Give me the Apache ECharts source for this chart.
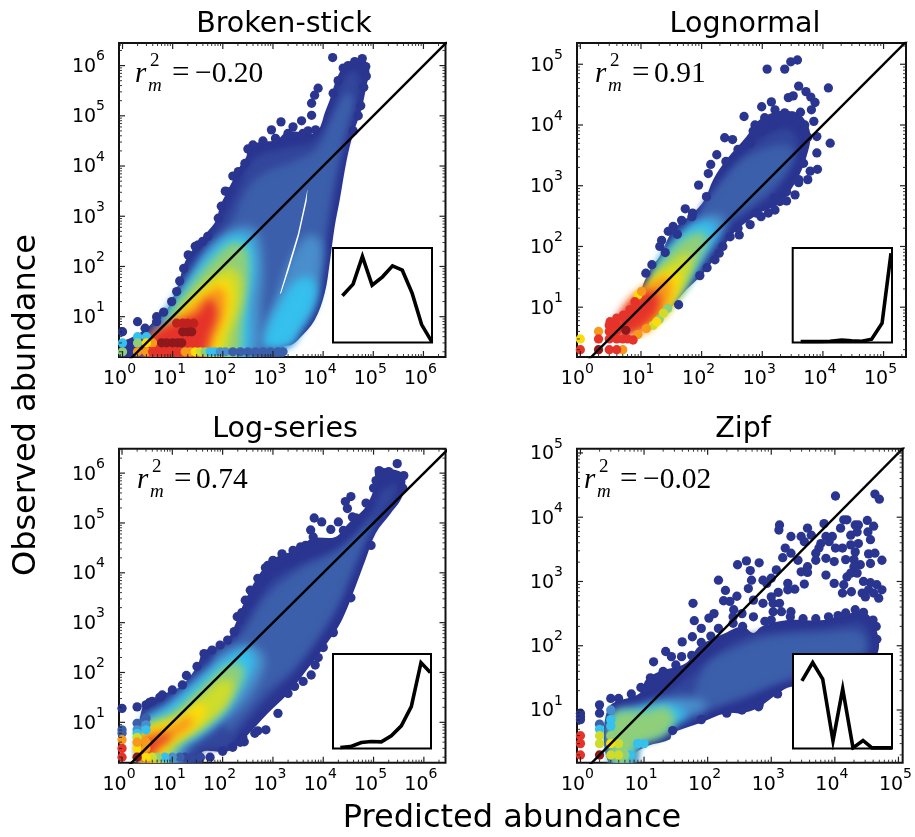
<!DOCTYPE html>
<html><head><meta charset="utf-8">
<style>html,body{margin:0;padding:0;background:#fff}#c{width:915px;height:837px}</style>
<script src="https://cdn.jsdelivr.net/npm/echarts@6/dist/echarts.min.js"></script>
</head><body><div id="c"></div>
<script>
const panelTitles = ['Broken-stick', 'Lognormal', 'Log-series', 'Zipf'];
const rmValues = ['\u22120.20', '0.91', '0.74', '\u22120.02'];
const xExtents = [[-0.07, 6.44], [-0.055, 5.37], [-0.06, 6.43], [-0.054, 5.066]];
const yExtents = [[0.197, 6.45], [0.18, 5.35], [0.19, 6.49], [0.18, 5.066]];
const xLabel = 'Predicted abundance';
const yLabel = 'Observed abundance';
// density level -> colour of the colour scale; level 11 is the bare paper showing through
const densityColors = ['#2a3590', '#33479c', '#3c5fab', '#4a8ecb', '#35c0ee', '#8fcf7a', '#cfdc2c', '#fcdc0c', '#f79a1c', '#e6332a', '#8e181c', '#ffffff', '#bf211f'];

const brokenStickBands = [
 [0, [[-.05,.19],[-.02,.47],[.21,.6],[.48,.77],[.74,1.03],[.88,1.13],[1.04,1.46],[1.14,1.73],[1.21,2],[1.34,2.26],[1.54,2.46],[1.67,2.66],[1.87,2.92],[1.94,3.19],[2.07,3.46],[2.24,3.79],[2.34,3.99],[2.47,4.19],[2.5,4.38],[2.74,4.48],[3.07,4.52],[3.27,4.68],[3.53,4.68],[3.73,4.65],[3.87,4.65],[3.97,4.85],[4.03,5.05],[4.13,5.31],[4.27,5.74],[4.43,6.01],[4.6,6.11],[4.8,6.14],[4.92,5.91],[4.86,5.58],[4.76,5.11],[4.6,4.65],[4.47,4.12],[4.33,3.32],[4.23,2.79],[4.13,2.06],[4.03,1.46],[3.83,.93],[3.53,.57],[3.37,.44],[3.2,.4],[3.2,.19]]],
 [1, [[.95,.9],[1.33,1.75],[1.85,2.68],[2.25,3.42],[2.62,4.14],[3.2,4.34],[3.8,4.48],[4.16,4.98],[4.42,5.75],[4.65,5.9],[4.72,5.58],[4.6,5.05],[4.36,4.19],[4.2,3.39],[4.08,2.73],[3.97,2],[3.8,1.33],[3.55,.87],[3.25,.42],[.95,.15]]],
 [2, [[1.58,2],[2.1,2.75],[2.5,3.55],[2.87,3.88],[3.4,4.08],[3.87,4.34],[4.22,5.05],[4.47,5.45],[4.6,5.33],[4.47,4.78],[4.28,3.99],[4.15,3.32],[4.03,2.53],[3.9,1.73],[3.66,1],[3.2,.42],[3.1,.15],[2.21,.15]]],
 [3, [[2.8,.73],[3.07,1.4],[3.34,2.13],[3.7,2.62],[3.95,2.5],[3.95,1.8],[3.78,1.13],[3.48,.67],[3.27,.44],[2.8,.44]]],
 [4, [[2.84,.67],[3.1,1.2],[3.4,1.66],[3.7,1.8],[3.86,1.6],[3.8,1.2],[3.55,.77],[3.34,.44],[2.8,.44]]],
 [11, [[3.14,1.46],[3.3,2],[3.5,2.66],[3.64,3.3],[3.69,3.55],[3.67,3.3],[3.52,2.62],[3.32,1.95],[3.16,1.46]]],
 [3, [[.7,.8],[1.2,1.6],[1.65,2.3],[2.21,2.75],[2.64,2.76],[2.8,2.13],[2.77,1.33],[2.6,.15],[.55,.15]]],
 [4, [[.78,.85],[1.27,1.62],[1.7,2.22],[2.14,2.6],[2.5,2.59],[2.64,2.13],[2.55,1.33],[2.37,.15],[.6,.15]]],
 [5, [[.88,.9],[1.34,1.6],[1.81,2.16],[2.21,2.47],[2.46,2.36],[2.52,1.86],[2.4,1],[2.24,.15],[.88,.15]]],
 [6, [[1.14,1],[1.54,1.56],[1.87,1.85],[2.14,1.98],[2.34,1.83],[2.36,1.33],[2.2,.8],[1.97,.15],[1.08,.15]]],
 [7, [[1.11,.97],[1.51,1.43],[1.81,1.66],[2.02,1.76],[2.17,1.6],[2.17,1.13],[1.97,.6],[1.81,.15],[.88,.15]]],
 [8, [[1.04,.92],[1.48,1.3],[1.81,1.55],[1.96,1.58],[2.06,1.4],[2.02,1],[1.83,.54],[1.63,.15],[.54,.15],[.5,.53]]],
 [9, [[.81,.8],[1.48,1.07],[1.7,1.34],[1.82,1.3],[1.88,1.02],[1.76,.67],[1.55,.15],[.45,.15],[.42,.47]]]
];
const brokenStickDots = [
 [0, [[4.19,6.16],[3.9,5.55],[3.83,5.41],[3.77,5.25],[3.77,5.01],[3.57,4.9],[3.4,4.78],[3.16,4.88],[2.97,4.72],[4.78,6.14],[4.5,6],[4.63,6.08],[4.85,5.98],[4.86,5.79],[4.81,5.57],[2.6,4.42],[2.5,4.34],[2.44,4.05],[2.31,3.89],[2.09,3.49],[1.97,3.2],[1.91,2.96],[1.51,2.43],[1.31,2.23],[1.22,1.96],[1.14,1.71],[.82,1.09],[.68,1],[.68,.9],[.3,.9],[.45,.77],[0,.7],[2.8,4.5],[3.05,4.55],[3.3,4.65],[3.6,4.65],[3.7,4.7],[3.85,4.72],[2.2,3.8],[2.05,3.5],[4.75,5.2],[4.7,5],[4.6,4.7],[1.7,2.6],[1.6,2.5],[1.45,2.4],[1.08,1.5],[.98,1.3],[4.3,5.7],[4.2,5.45],[4.4,5.95]]],
 [4, [[0,.477],[.3,.6],[.477,.6]]],
 [5, [[0,.3],[.3,.477]]],
 [8, [[.3,.3],[.477,.3],[.6,.477]]],
 [7, [[.477,.477]]],
 [9, [[.6,.3],[.75,.3],[.9,.3],[1.05,.3],[1.15,.3]]],
 [8, [[1.25,.3],[1.35,.3]]],
 [7, [[1.45,.3]]],
 [6, [[1.55,.3]]],
 [5, [[1.65,.3]]],
 [4, [[1.75,.3],[1.85,.3]]],
 [3, [[1.95,.3],[2.05,.3]]],
 [2, [[2.2,.3],[2.35,.3],[2.5,.3],[2.65,.3],[2.8,.3],[2.95,.3],[3.1,.3],[3.2,.3]]],
 [10, [[.78,.48],[.88,.48],[1,.48],[1.1,.48],[1.18,.48],[1.2,.7],[1.3,.7],[1.38,.7]]],
 [12, [[1.08,.87],[1.2,.87],[1.3,.87],[1.42,.87]]]
];
const brokenStickInset = [[9.5,49.5],[20.3,61.8],[29.7,91.2],[39.5,60.7],[50,69.5],[60.1,81.1],[70,76.5],[80,52],[89.5,18.9],[99.7,1]];

const lognormalBands = [
 [0, [[1,1.15],[1.15,1.62],[1.31,1.84],[1.53,2.27],[1.86,2.55],[2.05,2.77],[2.19,3.1],[2.41,3.43],[2.74,3.81],[2.96,4.09],[3.29,4.23],[3.62,4.17],[3.79,3.87],[3.73,3.48],[3.57,3.1],[3.29,2.71],[2.96,2.55],[2.58,2.27],[2.36,2],[2.03,1.56],[1.75,1.29],[1.5,1],[1.3,.8]]],
 [1, [[1.2,1.35],[1.36,1.7],[1.88,2.4],[2.22,2.9],[2.6,3.38],[2.98,3.76],[3.35,3.93],[3.55,3.83],[3.58,3.59],[3.42,3.23],[3.16,2.86],[2.8,2.6],[2.4,2.27],[2.06,1.82],[1.73,1.45],[1.48,1.1],[1.3,1]]],
 [2, [[1.97,2.52],[2.25,2.96],[2.69,3.44],[3.24,3.66],[3.5,3.61],[3.47,3.37],[3.22,3.02],[2.85,2.7],[2.52,2.48],[2.25,2.26]]],
 [3, [[1.3,1.67],[1.55,2.08],[1.97,2.46],[2.34,2.5],[2.36,2.27],[2.08,1.87],[1.86,1.54],[1.6,1.22],[1.4,1.14]]],
 [4, [[1.23,1.59],[1.5,2.01],[1.86,2.36],[2.17,2.4],[2.25,2.22],[2.03,1.86],[1.81,1.48],[1.55,1.15],[1.33,1.05]]],
 [5, [[1.18,1.45],[1.42,1.84],[1.75,2.16],[2.05,2.22],[2.07,2],[1.86,1.62],[1.7,1.29],[1.48,1.01],[1.26,.85]]],
 [6, [[1.15,1.4],[1.48,1.73],[1.75,1.89],[1.86,1.81],[1.75,1.45],[1.59,1.18],[1.42,.93],[1.2,.76]]],
 [7, [[1.04,1.23],[1.31,1.51],[1.59,1.59],[1.64,1.4],[1.53,1.12],[1.37,.87],[1.15,.68],[1.01,.57]]],
 [8, [[.82,1.12],[1.09,1.34],[1.42,1.51],[1.51,1.29],[1.42,1.01],[1.26,.79],[1.09,.63],[.8,.58],[.68,.65]]],
 [9, [[.6,.82],[.87,1.14],[1.15,1.27],[1.29,1.2],[1.29,.98],[1.13,.76],[.93,.6],[.7,.52],[.58,.58]]]
];
const lognormalDots = [
 [0, [[3.08,4.92],[3.37,4.92],[3.47,5.04],[3.58,5.07],[3.6,4.64],[3.72,4.55],[3.8,4.46],[3.87,4.37],[3.81,4.25],[4.09,4.61],[3.43,4.45],[3.51,4.48],[3.15,4.38],[2.99,4.3],[3.21,4.25],[2.7,4.14],[3.37,4.2],[3.63,4.21],[3.85,4.06],[3.9,3.81],[4.12,3.7],[3.9,3.54],[3.91,3.27],[3.79,3.24],[3.68,3.37],[3.54,2.85],[2.38,3.79],[2.51,3.76],[2.25,3.51],[2.15,3.35],[2.11,3.2],[1.95,3.01],[2.08,2.82],[1.73,2.62],[1.84,2.49],[1.67,2.43],[1.53,2.33],[1.45,2.25],[1.34,2.1],[1.31,2],[1.18,1.7],[1.08,1.56],[1.62,1.04],[1.97,1.52],[2.09,1.65],[2.29,1.89],[2.22,1.78],[2.47,2.16],[2.62,2.19],[2.8,2.36],[2.98,2.49],[3.1,2.55],[3.21,2.6],[3.29,2.74],[2.85,3.9],[2.88,4],[3.04,4.12],[3.75,3.1],[3.6,3.05],[3.4,2.75],[3.3,4.1],[3.5,4.15],[3.7,4],[3.75,3.8],[3.2,4],[3,3.9],[2.8,3.7],[2.6,3.6],[2.4,3.4],[3.6,3.1],[3.4,2.9],[3.2,2.8],[2.9,2.55],[2.6,2.3],[2.35,2],[1.85,2.55],[1.6,2.2],[1.4,1.9]]],
 [5, [[1.3,.8],[1.44,.98]]],
 [6, [[1.37,.9],[1.2,.7]]],
 [7, [[0,.477],[1.26,.76],[.95,1.2]]],
 [8, [[.7,.3],[.3,.6],[1.01,1.26],[1.09,.65],[.95,.55]]],
 [9, [[0,.3],[.3,.477],[.477,.3],[.6,.3],[.477,.477],[.6,.477],[.7,.477],[.477,.6],[.6,.6],[.477,.7],[.6,.7],[.78,.477],[.49,.76],[.6,.82],[.71,.87],[.82,.96],[.9,1.09],[.87,.46],[.75,.78]]],
 [10, [[.3,.3],[.75,.62]]]
];
const lognormalInset = [[8,1],[17.4,1],[27.5,1],[37.6,1.4],[49.3,2.5],[59.4,1.8],[69.5,1.4],[79.5,3.5],[90,20.5],[99,94.4]];

const logSeriesBands = [
 [0, [[.39,1.25],[.69,1.51],[1.16,1.72],[1.49,2.12],[1.62,2.42],[2.03,2.58],[2.23,2.92],[2.36,3.25],[2.53,3.62],[2.7,3.92],[2.9,4.19],[3.16,4.36],[3.49,4.46],[3.77,4.69],[4.24,4.72],[4.5,4.99],[4.84,5.32],[5.04,5.79],[5.04,6.06],[5.31,6.09],[5.61,5.96],[5.57,5.53],[5.34,5.19],[5.04,4.79],[4.84,4.26],[4.64,3.72],[4.37,3.05],[4.07,2.58],[3.77,2.18],[3.3,1.58],[2.9,1.18],[2.53,.78],[2.23,.48],[2.03,.41],[1.6,.41],[1.6,.19],[.39,.19]]],
 [1, [[.55,1],[1.12,1.45],[1.6,1.9],[2.15,2.42],[2.42,2.95],[2.68,3.4],[3,3.85],[3.6,4.2],[4.1,4.4],[4.6,4.7],[4.95,5.1],[5.15,5.6],[5.45,5.78],[5.38,5.5],[5.05,5.02],[4.78,4.5],[4.5,3.85],[4.18,3.12],[3.84,2.58],[3.4,1.98],[2.85,1.42],[2.4,.9],[2.1,.51],[1.55,.42],[1.5,.15],[.42,.15]]],
 [2, [[1.83,2.34],[2.36,2.74],[2.9,3.55],[3.57,4.08],[4.24,4.4],[4.75,4.85],[5.08,5.27],[5,5.1],[4.6,4.12],[4.33,3.45],[3.93,2.78],[3.4,2.08],[2.87,1.62],[2.47,1.15],[2.1,.82]]],
 [3, [[.42,1.05],[.89,1.38],[1.49,1.92],[2.1,2.42],[2.56,2.55],[2.83,2.32],[2.76,1.92],[2.36,1.31],[1.69,.78],[1.3,.48],[1.2,.15],[.42,.15]]],
 [4, [[.42,.95],[.89,1.28],[1.56,1.85],[2.16,2.35],[2.53,2.45],[2.63,2.18],[2.43,1.78],[2.03,1.18],[1.49,.71],[1.1,.48],[1,.15],[.42,.15]]],
 [5, [[.42,.85],[1.02,1.21],[1.63,1.74],[2.1,2.15],[2.38,2.15],[2.4,1.85],[2.05,1.28],[1.63,.88],[1.16,.56],[.85,.15],[.42,.15]]],
 [6, [[.42,.81],[1.16,1.15],[1.56,1.5],[1.96,1.84],[2.2,1.8],[2.08,1.36],[1.65,.96],[1.09,.58],[.75,.15],[.42,.15]]],
 [7, [[.42,.78],[1.09,1.05],[1.49,1.38],[1.66,1.33],[1.6,1.05],[1.25,.76],[.89,.55],[.65,.15],[.42,.15]]],
 [8, [[.42,.75],[.89,.88],[1.29,1.11],[1.43,1.05],[1.29,.85],[.89,.58],[.55,.15],[.42,.15]]],
 [9, [[.42,.61],[.76,.71],[.96,.78],[.92,.65],[.69,.51],[.45,.15],[.35,.45]]]
];
const logSeriesDots = [
 [0, [[5.47,6.19],[5.11,6.05],[5.3,6.03],[4.55,5.53],[4.44,5.43],[4.48,5.29],[3.82,5.1],[3.97,5.02],[3.75,4.86],[3.8,4.72],[4.15,4.87],[4.3,5.02],[4.58,5.12],[3.18,4.38],[2.9,4.15],[2.7,3.89],[2.29,3.12],[2.23,2.82],[1.63,2.38],[1.79,2.45],[1.28,1.94],[1.49,2.12],[3.84,2.15],[3.76,1.95],[3.6,1.82],[3.43,1.72],[3.3,1.58],[3.1,1.18],[2.86,.85],[2.7,.83],[2.64,.78],[2.43,.61],[1.75,.3],[0,1.28],[.3,1.31],[.477,1.35],[.6,1.42],[.75,1.5],[3,4.25],[2.85,4.1],[3.4,4.45],[3.55,4.52],[3.65,4.55],[2.55,3.65],[2.45,3.45],[2.38,3.2],[4.4,4.85],[4.65,5.1],[4.85,5.4],[5,5.7],[5.05,5.85],[5.6,5.95],[5.58,5.7],[4.95,4.55],[4.55,3.5],[4.2,2.8],[4,2.5],[3.9,2.3],[1.95,2.55],[2.1,2.65],[1.2,1.75],[1,1.65],[.8,1.55],[.55,1.4],[2.4,.7],[2,.42],[2.2,.5],[2.35,.6]]],
 [1, [[1.56,.3],[1.38,.3],[1.25,.3]]],
 [2, [[0,.85],[0,.78],[.3,.98],[.477,1.08],[1.15,.3]]],
 [3, [[.3,.85],[.477,.95],[1,.3]]],
 [4, [[.3,.78],[.477,.85],[.85,.3]]],
 [5, [[.7,.3]]],
 [6, [[.6,.3],[.3,.7]]],
 [7, [[.477,.3],[.3,.477]]],
 [8, [[0,.65],[.3,.6],[.477,.6],[.477,.477]]],
 [9, [[0,.477],[0,.3]]],
 [10, [[.3,.3]]]
];
const logSeriesInset = [[7.5,1],[17.7,2],[28.9,6.3],[39.1,7.4],[49.3,7],[59.5,13.4],[69.7,24],[79.9,44.4],[89.8,90.9],[99.3,80.5]];

const zipfBands = [
 [0, [[.44,1.03],[.93,1.26],[1.03,1.47],[1.24,1.6],[1.66,1.73],[1.86,1.99],[2.28,2.2],[2.55,2.3],[2.72,2.2],[2.85,2.3],[3.26,2.4],[3.83,2.4],[4.19,2.5],[4.5,2.5],[4.67,2.19],[4.67,1.88],[4.35,1.41],[3.31,1.36],[3.11,1.26],[2.79,1.03],[2.54,.95],[2.28,.95],[1.86,.79],[1.45,.64],[1.4,.54],[1.03,.43],[.83,.3],[.83,.19],[.44,.19]]],
 [1, [[.6,.95],[1.06,1.12],[1.66,1.48],[2.07,1.83],[2.59,2.14],[3.05,2.22],[3.83,2.28],[4.45,2.33],[4.5,1.88],[3.83,1.56],[3.11,1.42],[2.54,1.16],[1.86,.96],[1.42,.76],[1.06,.54],[.9,.44],[.85,.15],[.6,.15]]],
 [2, [[1.97,1.67],[2.59,2.02],[3.05,2.14],[3.83,2.2],[4.4,2.2],[4.46,1.88],[3.31,1.5],[2.64,1.25],[2.07,1.04],[1.76,.94]]],
 [3, [[.52,.92],[1.03,1.08],[1.45,1.19],[1.76,1.19],[1.99,1.08],[1.76,.92],[1.45,.78],[1.28,.65],[.9,.48],[.82,.15],[.52,.15]]],
 [4, [[.52,.9],[.83,.98],[1.19,1.08],[1.5,1.06],[1.66,.92],[1.45,.78],[1.28,.65],[.9,.48],[.82,.15],[.52,.15]]],
 [5, [[.52,.92],[1.03,.98],[1.35,1.04],[1.48,.85],[1.32,.62],[1,.5],[.85,.45],[.75,.15],[.52,.15]]]
];
const zipfDots = [
 [0, [[4.01,4.33],[4.63,4.36],[4.7,4.28],[3.13,3.88],[3.12,3.8],[3.31,3.7],[3.83,3.9],[3.57,3.83],[3.47,3.7],[3.63,3.72],[3.52,3.62],[4.14,3.96],[4.19,3.96],[4.09,3.83],[4.32,3.88],[4.37,3.88],[4.51,3.95],[4.61,3.86],[4.35,3.77],[4.25,3.72],[4.52,3.77],[4.56,3.65],[3.96,3.7],[3.86,3.7],[3.78,3.59],[3.75,3.52],[3.91,3.62],[4.01,3.52],[4.12,3.52],[4.25,3.57],[4.37,3.59],[4.32,3.46],[3.22,3.52],[3.31,3.44],[3.18,3.37],[3.42,3.33],[3.7,3.44],[3.7,3.33],[3.86,3.36],[3.99,3.31],[4.17,3.34],[4.3,3.34],[4.53,3.43],[4.63,3.44],[4.74,3.33],[4.56,3.28],[4.4,3.26],[4.3,3.23],[3.57,3.23],[3.47,3.15],[3.57,3.14],[3.08,3.18],[2.47,3.26],[2.61,3.32],[2.81,3.29],[2.67,3.17],[3.86,3.1],[4.25,3.13],[4.35,3.13],[4.19,3.07],[3.99,2.97],[4.14,2.95],[4.45,3],[4.56,2.98],[4.66,2.95],[4.74,2.87],[4.26,2.84],[4.12,2.82],[4.43,2.82],[4.53,2.87],[4.61,2.82],[4.48,2.76],[4.69,2.74],[3.52,2.96],[3.26,2.97],[3.37,2.88],[3.26,2.87],[3,3.05],[2.87,3.02],[2.93,2.97],[2.17,3.02],[2.69,3.02],[2.64,2.89],[2.28,2.86],[2.46,2.77],[2.25,2.7],[2.35,2.69],[2.41,2.56],[2.72,2.71],[2.87,2.66],[3,2.76],[3.11,2.83],[3.03,2.66],[3.13,2.66],[3.03,2.53],[3.16,2.53],[3.31,2.53],[1.77,2.66],[2.1,2.5],[2.02,2.43],[1.79,2.39],[1.9,2.27],[2.17,2.27],[1.76,2.14],[1.6,2.06],[1.34,1.91],[1.43,1.83],[1.59,1.83],[1.15,1.75],[4.17,2.51],[4.32,2.56],[4.45,2.52],[2.81,1.08],[2.54,1],[2.54,2.5],[2.72,2.45],[2.4,2.35],[2.55,2.3],[0,.95],[0,.9],[0,.85],[.3,1.08],[.3,.95],[.477,1.18],[.6,1.18],[3.3,2.45],[3.5,2.42],[3.7,2.42],[3.9,2.45],[4.05,2.47],[4.6,2.4],[4.65,2.3],[4.66,2.1],[3,2.4],[2.9,2.38],[2.4,2.45],[2.05,2.15],[1.9,2.05],[1.75,1.85],[1.5,1.7],[1.3,1.6],[1.1,1.5],[.95,1.35],[.8,1.25],[3.1,1.25],[2.8,1.05],[2.3,.95],[1.9,.85],[1.45,.68]]],
 [2, [[.3,.78]]],
 [3, [[.477,1]]],
 [4, [[.3,.7],[.477,.85],[.477,.75],[.78,.3],[.9,.477],[1,.477]]],
 [5, [[.7,.3],[.7,.477],[.477,.6]]],
 [6, [[.3,.6],[.3,.477],[.477,.3],[.6,.3],[.6,.477]]],
 [7, [[.477,.477]]],
 [9, [[0,.6],[0,.477],[0,.3]]],
 [10, [[.3,.3]]]
];
const zipfInset = [[9,71.6],[19.9,91],[30,73.5],[40.4,8],[50.2,63],[60.6,.7],[70.7,8.5],[79.8,.7],[100,.7]];

const mainGrids = [
 {left:119, top:43, width:326.5, height:314},
 {left:577, top:43, width:329, height:314},
 {left:119, top:448.7, width:326.5, height:314},
 {left:577, top:448.7, width:329, height:314}
];
const insetGrids = [
 {left:333, top:248, width:99, height:94.5},
 {left:792.7, top:248, width:99.3, height:94.5},
 {left:333, top:654, width:98, height:94.5},
 {left:793, top:654, width:99, height:94.5}
];
const rmPlace = [
 {r:135, eq:172, val:195, base:84},
 {r:595, eq:632, val:654, base:84},
 {r:137, eq:174, val:196, base:490},
 {r:584, eq:620, val:643, base:490}
];
const titleCenters = [[284,25],[745,25],[285,430],[743,430]];

const FONT = '"DejaVu Sans"';
const OFFSCREEN = 4000;
const dec = p => [Math.pow(10, p[0]), Math.pow(10, p[1])];
const bands = [brokenStickBands, lognormalBands, logSeriesBands, zipfBands];
const dots = [brokenStickDots, lognormalDots, logSeriesDots, zipfDots];
const insets = [brokenStickInset, lognormalInset, logSeriesInset, zipfInset];

const grids = [], xAxes = [], yAxes = [], series = [], titles = [], graphics = [];
const rich = {
  a: {fontFamily: FONT, fontSize: 19, lineHeight: 27, verticalAlign: 'bottom', color: '#000'},
  b: {fontFamily: FONT, fontSize: 14, lineHeight: 27, verticalAlign: 'top', color: '#000'}
};
const powLabel = v => {
  const e = Math.log10(v), r = Math.round(e);
  if (Math.abs(e - r) > 1e-6 || r < 0) return '';
  return '{a|10}{b|' + r + '}';
};

function polygonSeries(ax, level, pts) {
  const color = densityColors[level];
  const hard = level === 0 || level === 11;
  const blur = level < 3 ? 7 : level < 5 ? 10 : 8;
  const data = pts.map(dec);
  return {
    type: 'custom', xAxisIndex: ax, yAxisIndex: ax, clip: true, silent: true, data,
    encode: {x: 0, y: 1},
    renderItem: (params, api) => {
      if (params.dataIndex !== 0) return null;
      const shift = hard ? 0 : OFFSCREEN;
      return {
        type: 'polygon',
        shape: {points: data.map(q => { const c = api.coord(q); return [c[0] - shift, c[1]]; }), smooth: level === 11 ? 0 : 0.35},
        style: hard ? {fill: color} : {fill: color, shadowBlur: blur, shadowColor: color, shadowOffsetX: OFFSCREEN}
      };
    }
  };
}
function dotSeries(ax, level, pts) {
  return {
    type: 'scatter', xAxisIndex: ax, yAxisIndex: ax, symbolSize: 9.3, silent: true, clip: true,
    itemStyle: {color: densityColors[level], opacity: 1}, data: pts.map(dec)
  };
}
function tickSeries(ax, xe, ye) {
  const data = [];
  const add = (axis, ext) => {
    for (let d = Math.floor(ext[0]); d <= Math.ceil(ext[1]); d++) {
      for (let m = 1; m <= 9; m++) {
        const v = m * Math.pow(10, d), l = Math.log10(v);
        if (l < ext[0] || l > ext[1]) continue;
        data.push(axis === 0 ? [v, Math.pow(10, ye[0]), m === 1 ? 1 : 0, 0] : [Math.pow(10, xe[0]), v, m === 1 ? 1 : 0, 1]);
      }
    }
  };
  add(0, xe); add(1, ye);
  return {
    type: 'custom', xAxisIndex: ax, yAxisIndex: ax, silent: true, z: 6, data,
    encode: {x: 0, y: 1},
    renderItem: (params, api) => {
      const c = api.coord([api.value(0), api.value(1)]);
      const g = params.coordSys, len = api.value(2) ? 6 : 3;
      const st = {stroke: '#222', lineWidth: api.value(2) ? 1.2 : 0.9};
      const seg = (x1, y1, x2, y2) => ({type: 'line', shape: {x1, y1, x2, y2}, style: st});
      const kids = api.value(3) === 0
        ? [seg(c[0], g.y + g.height, c[0], g.y + g.height - len), seg(c[0], g.y, c[0], g.y + len)]
        : [seg(g.x, c[1], g.x + len, c[1]), seg(g.x + g.width, c[1], g.x + g.width - len, c[1])];
      return {type: 'group', children: kids};
    }
  };
}

for (let i = 0; i < 4; i++) {
  const xe = xExtents[i], ye = yExtents[i], ax = 2 * i, k = 2 * i + 1;
  grids.push(Object.assign({show: true, borderColor: '#111', borderWidth: 2, backgroundColor: 'transparent', containLabel: false}, mainGrids[i]));
  xAxes.push({
    type: 'log', gridIndex: ax, logBase: 10, min: Math.pow(10, xe[0]), max: Math.pow(10, xe[1]),
    splitLine: {show: false}, axisTick: {show: false}, axisLine: {show: false}, minorTick: {show: false},
    axisLabel: {formatter: powLabel, rich, margin: 5, padding: [0, 6, 0, 0], showMinLabel: true, showMaxLabel: true, hideOverlap: false}
  });
  yAxes.push({
    type: 'log', gridIndex: ax, logBase: 10, min: Math.pow(10, ye[0]), max: Math.pow(10, ye[1]),
    splitLine: {show: false}, axisTick: {show: false}, axisLine: {show: false}, minorTick: {show: false},
    axisLabel: {formatter: powLabel, rich, margin: 14, padding: [0, 0, 5, 0], showMinLabel: true, showMaxLabel: true, hideOverlap: false}
  });
  const b = bands[i], d = dots[i];
  series.push(polygonSeries(ax, b[0][0], b[0][1]));
  d.filter(q => q[0] <= 1).forEach(q => series.push(dotSeries(ax, q[0], q[1])));
  b.slice(1).forEach(q => series.push(polygonSeries(ax, q[0], q[1])));
  d.filter(q => q[0] > 1).forEach(q => series.push(dotSeries(ax, q[0], q[1])));
  const top = Math.pow(10, Math.min(xe[1], ye[1]) + 0.1);
  series.push({
    type: 'line', xAxisIndex: ax, yAxisIndex: ax, silent: true, showSymbol: false, clip: true, z: 5,
    lineStyle: {color: '#000', width: 2.4},
    data: [[1, 1], [top, top]]
  });
  series.push(tickSeries(ax, xe, ye));

  // inset
  grids.push(Object.assign({show: true, borderColor: '#000', borderWidth: 2, backgroundColor: '#fff', z: 10, containLabel: false}, insetGrids[i]));
  xAxes.push({type: 'value', gridIndex: k, min: 0, max: 100, show: false});
  yAxes.push({type: 'value', gridIndex: k, min: 0, max: 100, show: false});
  series.push({
    type: 'line', xAxisIndex: k, yAxisIndex: k, silent: true, showSymbol: false, clip: true, z: 12,
    lineStyle: {color: '#000', width: 3.6, join: 'miter'}, data: insets[i]
  });

  titles.push({text: panelTitles[i], left: titleCenters[i][0], top: titleCenters[i][1], padding: 0, textAlign: 'center', textVerticalAlign: 'middle',
    textStyle: {fontFamily: FONT, fontSize: 28.5, fontWeight: 'normal', color: '#000'}});

  const rp = rmPlace[i];
  const txt = (x, y, text, size, italic) => ({type: 'text', x, y, z: 20, silent: true,
    style: {text, fill: '#000', font: (italic ? 'italic ' : '') + size + 'px "Liberation Serif"', verticalAlign: 'bottom'}});
  graphics.push(txt(rp.r, rp.base + 5, 'r', 29, true));
  graphics.push(txt(rp.r + 15, rp.base - 13, '2', 19, false));
  graphics.push(txt(rp.r + 13, rp.base + 11, 'm', 19, true));
  graphics.push(txt(rp.eq, rp.base + 5, '=', 31, false));
  graphics.push(txt(rp.val, rp.base + 5, rmValues[i], 29.5, false));
}
graphics.push({type: 'text', x: 512, y: 819, z: 20, silent: true, style: {text: xLabel, fill: '#000', font: '32px ' + FONT, align: 'center', verticalAlign: 'middle'}});
graphics.push({type: 'text', x: 27, y: 405, rotation: Math.PI / 2, z: 20, silent: true, style: {text: yLabel, fill: '#000', font: '32px ' + FONT, align: 'center', verticalAlign: 'middle'}});

const chart = echarts.init(document.getElementById('c'), null, {renderer: 'canvas'});
chart.setOption({animation: false, backgroundColor: '#fff', title: titles, grid: grids, xAxis: xAxes, yAxis: yAxes, series, graphic: graphics});
</script></body></html>
